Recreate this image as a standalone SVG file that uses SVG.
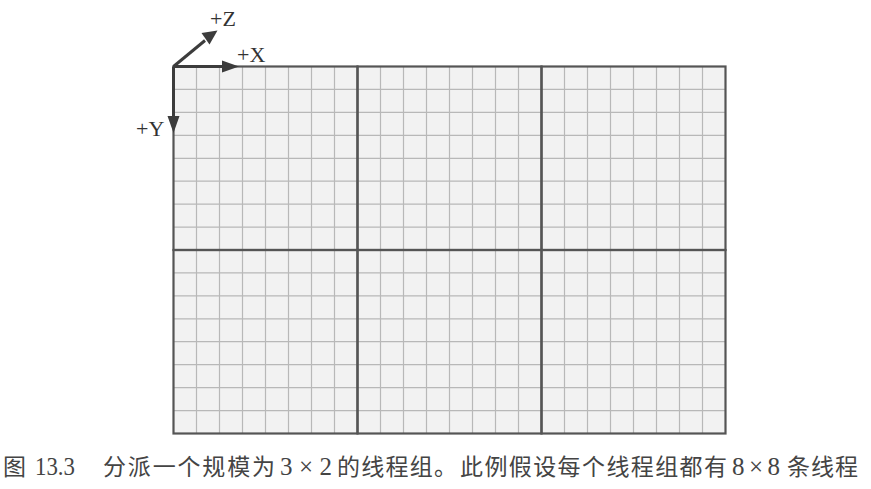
<svg xmlns="http://www.w3.org/2000/svg" width="871" height="489" viewBox="0 0 871 489">
<defs>
<style>
.thin{stroke:#b8b8b8;stroke-width:1.2;fill:none}
.thick{stroke:#555;stroke-width:2.2;fill:none}
.axis{stroke:#3c3c3c;stroke-width:3;fill:none}
.lbl{font-family:"Liberation Serif","Times New Roman",serif;font-size:22px;fill:#333}
.cap{font-family:"Noto Sans CJK SC","Noto Sans CJK JP",sans-serif;font-size:23px;fill:#444}
.capl{font-family:"Liberation Serif","Times New Roman",serif;font-size:25px;fill:#444}
</style>
</defs>
<rect width="871" height="489" fill="#fff"/>
<g id="grid-area">
<rect x="173.5" y="66.5" width="552" height="367" fill="#f2f2f2"/>
<path class="thin" d="M196.5,66.5V433.5 M219.5,66.5V433.5 M242.5,66.5V433.5 M265.5,66.5V433.5 M288.5,66.5V433.5 M311.5,66.5V433.5 M334.5,66.5V433.5 M380.5,66.5V433.5 M403.5,66.5V433.5 M426.5,66.5V433.5 M449.5,66.5V433.5 M472.5,66.5V433.5 M495.5,66.5V433.5 M518.5,66.5V433.5 M564.5,66.5V433.5 M587.5,66.5V433.5 M610.5,66.5V433.5 M633.5,66.5V433.5 M656.5,66.5V433.5 M679.5,66.5V433.5 M702.5,66.5V433.5"/>
<path class="thin" d="M173.5,89.4H725.5 M173.5,112.4H725.5 M173.5,135.3H725.5 M173.5,158.3H725.5 M173.5,181.2H725.5 M173.5,204.1H725.5 M173.5,227.1H725.5 M173.5,272.9H725.5 M173.5,295.9H725.5 M173.5,318.8H725.5 M173.5,341.7H725.5 M173.5,364.7H725.5 M173.5,387.6H725.5 M173.5,410.6H725.5"/>
</g>
<g id="groups">
<g id="g00"><rect class="thick" x="173.5" y="66.5" width="184" height="183.5"/></g>
<g id="g10"><rect class="thick" x="357.5" y="66.5" width="184" height="183.5"/></g>
<g id="g20"><rect class="thick" x="541.5" y="66.5" width="184" height="183.5"/></g>
<g id="g01"><rect class="thick" x="173.5" y="250" width="184" height="183.5"/></g>
<g id="g11"><rect class="thick" x="357.5" y="250" width="184" height="183.5"/></g>
<g id="g21"><rect class="thick" x="541.5" y="250" width="184" height="183.5"/></g>
</g>
<g id="connectors">
<line class="axis" x1="173.5" y1="66.5" x2="224" y2="66.5"/>
<path d="M222,60.5 L239,66.5 L222,72.5 z" fill="#3c3c3c"/>
<line class="axis" x1="173.5" y1="66.5" x2="173.5" y2="118"/>
<path d="M167.5,116 L173.5,133 L179.5,116 z" fill="#3c3c3c"/>
<line class="axis" x1="173.5" y1="66.5" x2="205" y2="40.5"/>
<path d="M201.5,33 L217.5,30.5 L209.5,44.5 z" fill="#3c3c3c"/>
</g>
<g id="labels">
<text class="lbl" x="237" y="62">+X</text>
<text class="lbl" x="210" y="26">+Z</text>
<text class="lbl" x="136" y="136">+Y</text>
</g>
<g id="caption">
<text class="cap" x="3" y="475">图</text>
<text class="capl" x="35" y="475" textLength="40" lengthAdjust="spacingAndGlyphs">13.3</text>
<text class="cap" x="103" y="475" textLength="172" lengthAdjust="spacing">分派一个规模为</text>
<text class="capl" x="280" y="475" textLength="52" lengthAdjust="spacing">3×2</text>
<text class="cap" x="337" y="475" textLength="120" lengthAdjust="spacing">的线程组。</text>
<text class="cap" x="460" y="475" textLength="267" lengthAdjust="spacing">此例假设每个线程组都有</text>
<text class="capl" x="732" y="475" textLength="48" lengthAdjust="spacing">8×8</text>
<text class="cap" x="787" y="475" textLength="71" lengthAdjust="spacing">条线程</text>
</g>
</svg>
